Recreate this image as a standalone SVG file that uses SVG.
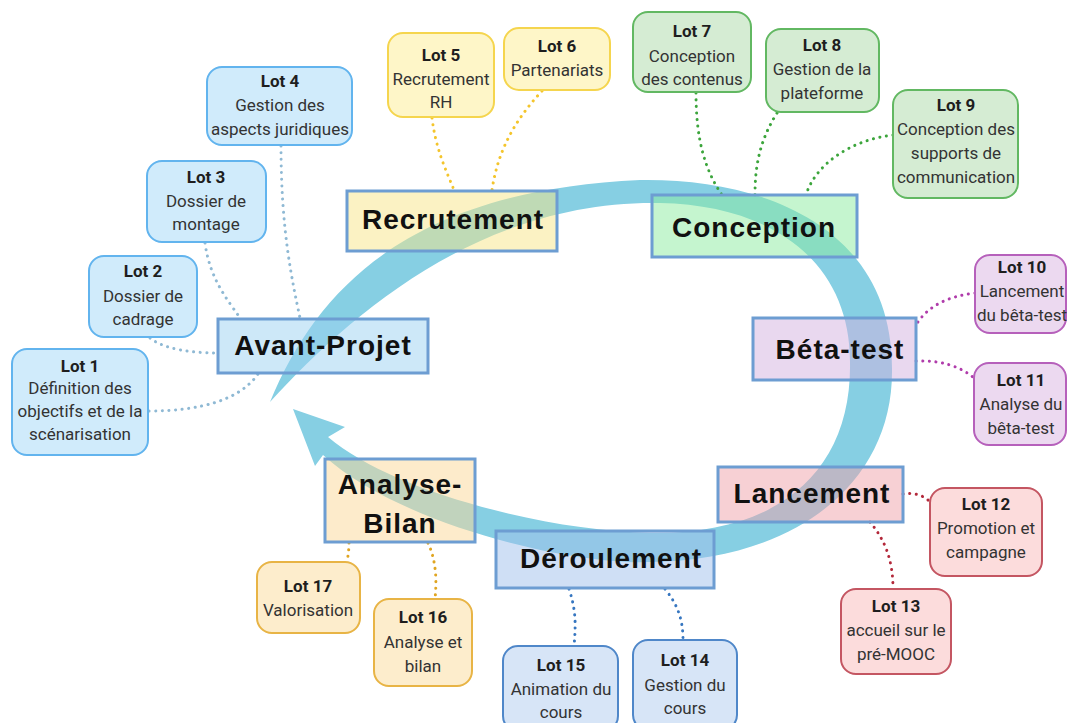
<svg xmlns="http://www.w3.org/2000/svg" width="1067" height="723" viewBox="0 0 1067 723">
<defs>
<style>
.phase rect{stroke:#6d9dd2;stroke-width:3;fill-opacity:.5}
.phase text{font-family:"Liberation Sans",Arial,sans-serif;font-weight:bold;font-size:28px;letter-spacing:1px;text-anchor:middle;fill:#111}
.lot rect{stroke-width:2}
.lot text{font-family:Roboto,"Liberation Sans",sans-serif;font-size:17px;text-anchor:middle;fill:#333}
.lot .t{font-weight:bold;fill:#1e1e1e}
.conn path{fill:none;stroke-width:3;stroke-linecap:round;stroke-dasharray:0.1 6.5}
.c-ap{stroke:#8fb9d4}.c-re{stroke:#f4c52c}.c-co{stroke:#3ca53c}.c-be{stroke:#b03cab}.c-la{stroke:#b3283a}.c-de{stroke:#3676c0}.c-an{stroke:#e0a521}
.l-ap rect{fill:#d0ebfb;stroke:#62b4ee}
.l-re rect{fill:#fef6c8;stroke:#f5d54e}
.l-co rect{fill:#d5ecd3;stroke:#62b862}
.l-be rect{fill:#ecd9f0;stroke:#b660bb}
.l-la rect{fill:#fcdcdc;stroke:#c45662}
.l-de rect{fill:#d7e5f7;stroke:#4f87c9}
.l-an rect{fill:#fdedcc;stroke:#e8b445}
</style>
</defs>
<rect x="0" y="0" width="1067" height="723" fill="#ffffff"/>
<g id="cycle-arrow">
<path fill="#86cfe3" d="M270,402 C320,280 420,190 640,180 C760,178 893,225 892,370 C893,480 800,560 650,562 C570,565 400,525 323,455 L315,466 L293,409 L345,427 L328,437 C390,490 540,530 650,533 C780,535 852,470 850,362 C850,260 770,205 660,203 C480,200 350,315 270,402 Z"/>
</g>
<g id="connectors" class="conn">
<path class="c-ap" d="M281,146 C281,230 292,280 300,318"/>
<path class="c-ap" d="M205,243 C210,280 228,300 240,318"/>
<path class="c-ap" d="M150,338 C165,350 195,353 218,353"/>
<path class="c-ap" d="M149,411 C200,411 240,400 258,374"/>
<path class="c-re" d="M432,118 C436,150 446,170 454,190"/>
<path class="c-re" d="M542,91 C515,120 498,150 492,190"/>
<path class="c-co" d="M696,93 C696,140 705,170 722,195"/>
<path class="c-co" d="M777,113 C760,140 755,165 755,195"/>
<path class="c-co" d="M893,135 C850,140 815,165 806,195"/>
<path class="c-be" d="M975,293 C950,296 928,305 916,325"/>
<path class="c-be" d="M916,361 C940,360 960,366 974,378"/>
<path class="c-la" d="M903,494 C915,492 925,496 931,503"/>
<path class="c-la" d="M870,522 C885,540 893,560 893,589"/>
<path class="c-de" d="M569,589 C576,610 576,625 574,646"/>
<path class="c-de" d="M665,589 C678,605 683,620 683,640"/>
<path class="c-an" d="M349,543 C349,550 348,556 347,562"/>
<path class="c-an" d="M428,543 C436,560 437,580 435,599"/>
</g>
<g id="phase-avant-projet" class="phase"><rect x="218" y="319" width="210" height="54" fill="#9bd1f1"/><text x="323" y="355">Avant-Projet</text></g>
<g id="phase-recrutement" class="phase"><rect x="347" y="191" width="210" height="60" fill="#f7e587"/><text x="453" y="229">Recrutement</text></g>
<g id="phase-conception" class="phase"><rect x="652" y="195" width="205" height="62" fill="#8beb9f"/><text x="754" y="237">Conception</text></g>
<g id="phase-beta-test" class="phase"><rect x="753" y="318" width="163" height="62" fill="#d3b1df"/><text x="840" y="359">Béta-test</text></g>
<g id="phase-lancement" class="phase"><rect x="718" y="467" width="185" height="55" fill="#efa1a9"/><text x="812" y="503">Lancement</text></g>
<g id="phase-deroulement" class="phase"><rect x="496" y="531" width="218" height="57" fill="#9fbfeb"/><text x="611" y="568">Déroulement</text></g>
<g id="phase-analyse-bilan" class="phase"><rect x="325" y="459" width="150" height="83" fill="#fbd797"/><text x="400" y="494">Analyse-</text><text x="400" y="533">Bilan</text></g>
<g id="lot-1" class="lot l-ap"><rect x="12" y="349" width="136" height="106" rx="15"/><text x="80" y="372" class="t">Lot 1</text><text x="80" y="394">Définition des</text><text x="80" y="417">objectifs et de la</text><text x="80" y="440">scénarisation</text></g>
<g id="lot-2" class="lot l-ap"><rect x="89" y="256" width="108" height="81" rx="15"/><text x="143" y="277" class="t">Lot 2</text><text x="143" y="302">Dossier de</text><text x="143" y="325">cadrage</text></g>
<g id="lot-3" class="lot l-ap"><rect x="147" y="161" width="119" height="81" rx="15"/><text x="206" y="183" class="t">Lot 3</text><text x="206" y="207">Dossier de</text><text x="206" y="230">montage</text></g>
<g id="lot-4" class="lot l-ap"><rect x="207" y="67" width="145" height="78" rx="15"/><text x="280" y="87" class="t">Lot 4</text><text x="280" y="111">Gestion des</text><text x="280" y="135">aspects juridiques</text></g>
<g id="lot-5" class="lot l-re"><rect x="388" y="33" width="106" height="84" rx="15"/><text x="441" y="61" class="t">Lot 5</text><text x="441" y="85">Recrutement</text><text x="441" y="108">RH</text></g>
<g id="lot-6" class="lot l-re"><rect x="504" y="28" width="106" height="62" rx="15"/><text x="557" y="52" class="t">Lot 6</text><text x="557" y="76">Partenariats</text></g>
<g id="lot-7" class="lot l-co"><rect x="633" y="12" width="118" height="80" rx="15"/><text x="692" y="37" class="t">Lot 7</text><text x="692" y="62">Conception</text><text x="692" y="85">des contenus</text></g>
<g id="lot-8" class="lot l-co"><rect x="766" y="29" width="113" height="83" rx="15"/><text x="822" y="51" class="t">Lot 8</text><text x="822" y="75">Gestion de la</text><text x="822" y="99">plateforme</text></g>
<g id="lot-9" class="lot l-co"><rect x="893" y="90" width="125" height="108" rx="15"/><text x="956" y="111" class="t">Lot 9</text><text x="956" y="135">Conception des</text><text x="956" y="159">supports de</text><text x="956" y="183">communication</text></g>
<g id="lot-10" class="lot l-be"><rect x="975" y="255" width="91" height="78" rx="15"/><text x="1022" y="273" class="t">Lot 10</text><text x="1022" y="297">Lancement</text><text x="1022" y="321">du bêta-test</text></g>
<g id="lot-11" class="lot l-be"><rect x="974" y="363" width="92" height="82" rx="15"/><text x="1021" y="386" class="t">Lot 11</text><text x="1021" y="410">Analyse du</text><text x="1021" y="434">bêta-test</text></g>
<g id="lot-12" class="lot l-la"><rect x="930" y="488" width="112" height="88" rx="15"/><text x="986" y="510" class="t">Lot 12</text><text x="986" y="534">Promotion et</text><text x="986" y="558">campagne</text></g>
<g id="lot-13" class="lot l-la"><rect x="841" y="589" width="110" height="85" rx="15"/><text x="896" y="612" class="t">Lot 13</text><text x="896" y="636">accueil sur le</text><text x="896" y="660">pré-MOOC</text></g>
<g id="lot-14" class="lot l-de"><rect x="633" y="640" width="104" height="90" rx="15"/><text x="685" y="666" class="t">Lot 14</text><text x="685" y="691">Gestion du</text><text x="685" y="714">cours</text></g>
<g id="lot-15" class="lot l-de"><rect x="503" y="646" width="115" height="85" rx="15"/><text x="561" y="671" class="t">Lot 15</text><text x="561" y="695">Animation du</text><text x="561" y="718">cours</text></g>
<g id="lot-16" class="lot l-an"><rect x="374" y="599" width="98" height="87" rx="15"/><text x="423" y="623" class="t">Lot 16</text><text x="423" y="648">Analyse et</text><text x="423" y="672">bilan</text></g>
<g id="lot-17" class="lot l-an"><rect x="257" y="562" width="103" height="71" rx="15"/><text x="308" y="592" class="t">Lot 17</text><text x="308" y="616">Valorisation</text></g>
</svg>
